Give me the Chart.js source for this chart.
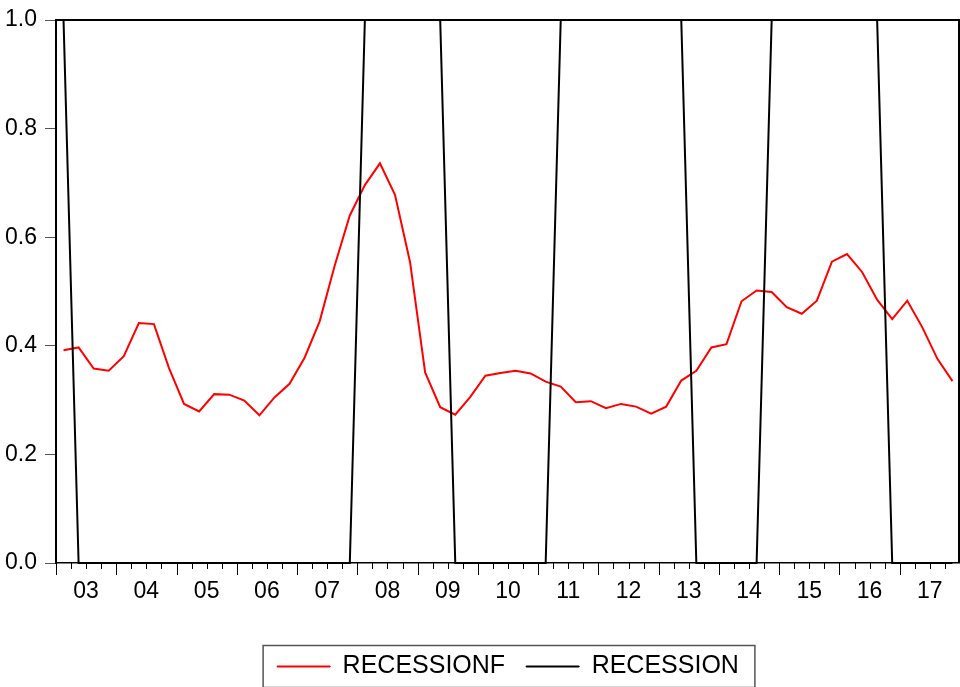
<!DOCTYPE html>
<html>
<head>
<meta charset="utf-8">
<script src="https://cdn.jsdelivr.net/npm/chart.js@4.4.1/dist/chart.umd.min.js"></script>
<style>
  html, body { margin: 0; padding: 0; background: #fff; }
  canvas { display: block; }
</style>
</head>
<body>
<canvas id="recessionChart" width="960" height="687"></canvas>
<script>
// year labels shown under the axis, one per year (quarterly data 2003Q1 - 2017Q4)
const yearLabels = ["03", "04", "05", "06", "07", "08", "09", "10", "11", "12", "13", "14", "15", "16", "17"];
const quarterNames = ["Q1", "Q2", "Q3", "Q4"];
const quarters = yearLabels.flatMap((y) => quarterNames.map((q) => y + q));

// forecast probability (red)
const recessionF = [
  0.392, 0.397, 0.358, 0.354, 0.381, 0.442, 0.440, 0.359, 0.293, 0.279,
  0.311, 0.310, 0.299, 0.272, 0.305, 0.330, 0.378, 0.445, 0.548, 0.640,
  0.696, 0.736, 0.678, 0.554, 0.351, 0.287, 0.273, 0.306, 0.345, 0.350,
  0.354, 0.349, 0.334, 0.325, 0.296, 0.298, 0.285, 0.293, 0.288, 0.275,
  0.288, 0.336, 0.354, 0.397, 0.403, 0.482, 0.502, 0.499, 0.471, 0.459,
  0.483, 0.555, 0.569, 0.536, 0.485, 0.449, 0.483, 0.434, 0.376, 0.335
];

// actual recession indicator (black)
const recession = [
  1, 0, 0, 0, 0, 0, 0, 0, 0, 0,
  0, 0, 0, 0, 0, 0, 0, 0, 0, 0,
  1, 1, 1, 1, 1, 1, 0, 0, 0, 0,
  0, 0, 0, 1, 1, 1, 1, 1, 1, 1,
  1, 1, 0, 0, 0, 0, 0, 1, 1, 1,
  1, 1, 1, 1, 1, 0, 0, 0, 0, 0
];

const yTicks = [0, 0.2, 0.4, 0.6, 0.8, 1.0];

const FONT = "'Liberation Sans', Arial, sans-serif";

// draws quarter ticks (long ones on year boundaries), the top/right frame and the legend box
const framePlugin = {
  id: "frame",
  afterDraw(chart) {
    const ctx = chart.ctx;
    const area = chart.chartArea;
    const xs = chart.scales.x;
    const step = xs.getPixelForValue(1) - xs.getPixelForValue(0);
    ctx.save();
    ctx.strokeStyle = "#000";
    ctx.lineWidth = 1;
    for (let i = 0; i <= quarters.length; i++) {
      const x = Math.round(xs.getPixelForValue(i) - step / 2) + 0.5;
      const len = i % 4 === 0 ? 12 : 6;
      ctx.beginPath();
      ctx.moveTo(x, area.bottom);
      ctx.lineTo(x, area.bottom + len);
      ctx.stroke();
    }
    // top and right frame
    ctx.lineWidth = 2;
    ctx.beginPath();
    ctx.moveTo(area.left, area.top);
    ctx.lineTo(area.right - 1, area.top);
    ctx.lineTo(area.right - 1, area.bottom);
    ctx.stroke();

    // box around the legend
    const boxes = chart.legend.legendHitBoxes;
    if (boxes && boxes.length) {
      const first = boxes[0];
      const last = boxes[boxes.length - 1];
      const cy = first.top + first.height / 2;
      ctx.strokeStyle = "#555";
      ctx.lineWidth = 1.5;
      ctx.strokeRect(first.left - 14, cy - 21, last.left + last.width + 16 - (first.left - 14), 42);
    }
    ctx.restore();
  }
};

new Chart(document.getElementById("recessionChart"), {
  type: "line",
  data: {
    labels: quarters,
    datasets: [
      {
        label: "RECESSIONF",
        data: recessionF,
        borderColor: "#ff0000",
        backgroundColor: "#ff0000",
        borderWidth: 2,
        pointRadius: 0,
        tension: 0,
        order: 1
      },
      {
        label: "RECESSION",
        data: recession,
        borderColor: "#000000",
        backgroundColor: "#000000",
        borderWidth: 2,
        pointRadius: 0,
        tension: 0,
        clip: 4,
        order: 0
      }
    ]
  },
  options: {
    responsive: false,
    animation: false,
    layout: { padding: { top: 20, right: 0, left: 0, bottom: -2 } },
    plugins: {
      legend: {
        position: "bottom",
        fullSize: false,
        labels: {
          color: "#000",
          font: { family: FONT, size: 25 },
          boxWidth: 53,
          boxHeight: 1,
          padding: 21,
          sort: (a, b) => a.datasetIndex - b.datasetIndex,
          generateLabels: (chart) =>
            Chart.defaults.plugins.legend.labels.generateLabels(chart).map((item) => ({ ...item, lineWidth: 1 }))
        }
      },
      tooltip: { enabled: false }
    },
    scales: {
      x: {
        type: "category",
        offset: true,
        grid: { display: false },
        border: { display: true, color: "#000", width: 1.5 },
        ticks: {
          autoSkip: false,
          maxRotation: 0,
          color: "#000",
          font: { family: FONT, size: 23 },
          padding: 7,
          labelOffset: 7.5,
          callback: (value, i) => (i % 4 === 1 ? yearLabels[Math.floor(i / 4)] : "")
        },
        afterFit: (scale) => {
          scale.height = 70;
          scale.paddingLeft = 0;
          scale.paddingRight = 0;
        }
      },
      y: {
        min: 0,
        max: 1,
        afterBuildTicks: (scale) => { scale.ticks = yTicks.map((v) => ({ value: v })); },
        grid: { drawOnChartArea: false, tickLength: 11, color: "#555" },
        border: { display: true, color: "#000", width: 2 },
        ticks: {
          color: "#000",
          font: { family: FONT, size: 23 },
          padding: 8,
          callback: (v) => v.toFixed(1)
        },
        afterFit: (scale) => {
          scale.width = 56;
          scale.paddingTop = 0;
          scale.paddingBottom = 0;
        }
      }
    }
  },
  plugins: [framePlugin]
});
</script>
</body>
</html>
